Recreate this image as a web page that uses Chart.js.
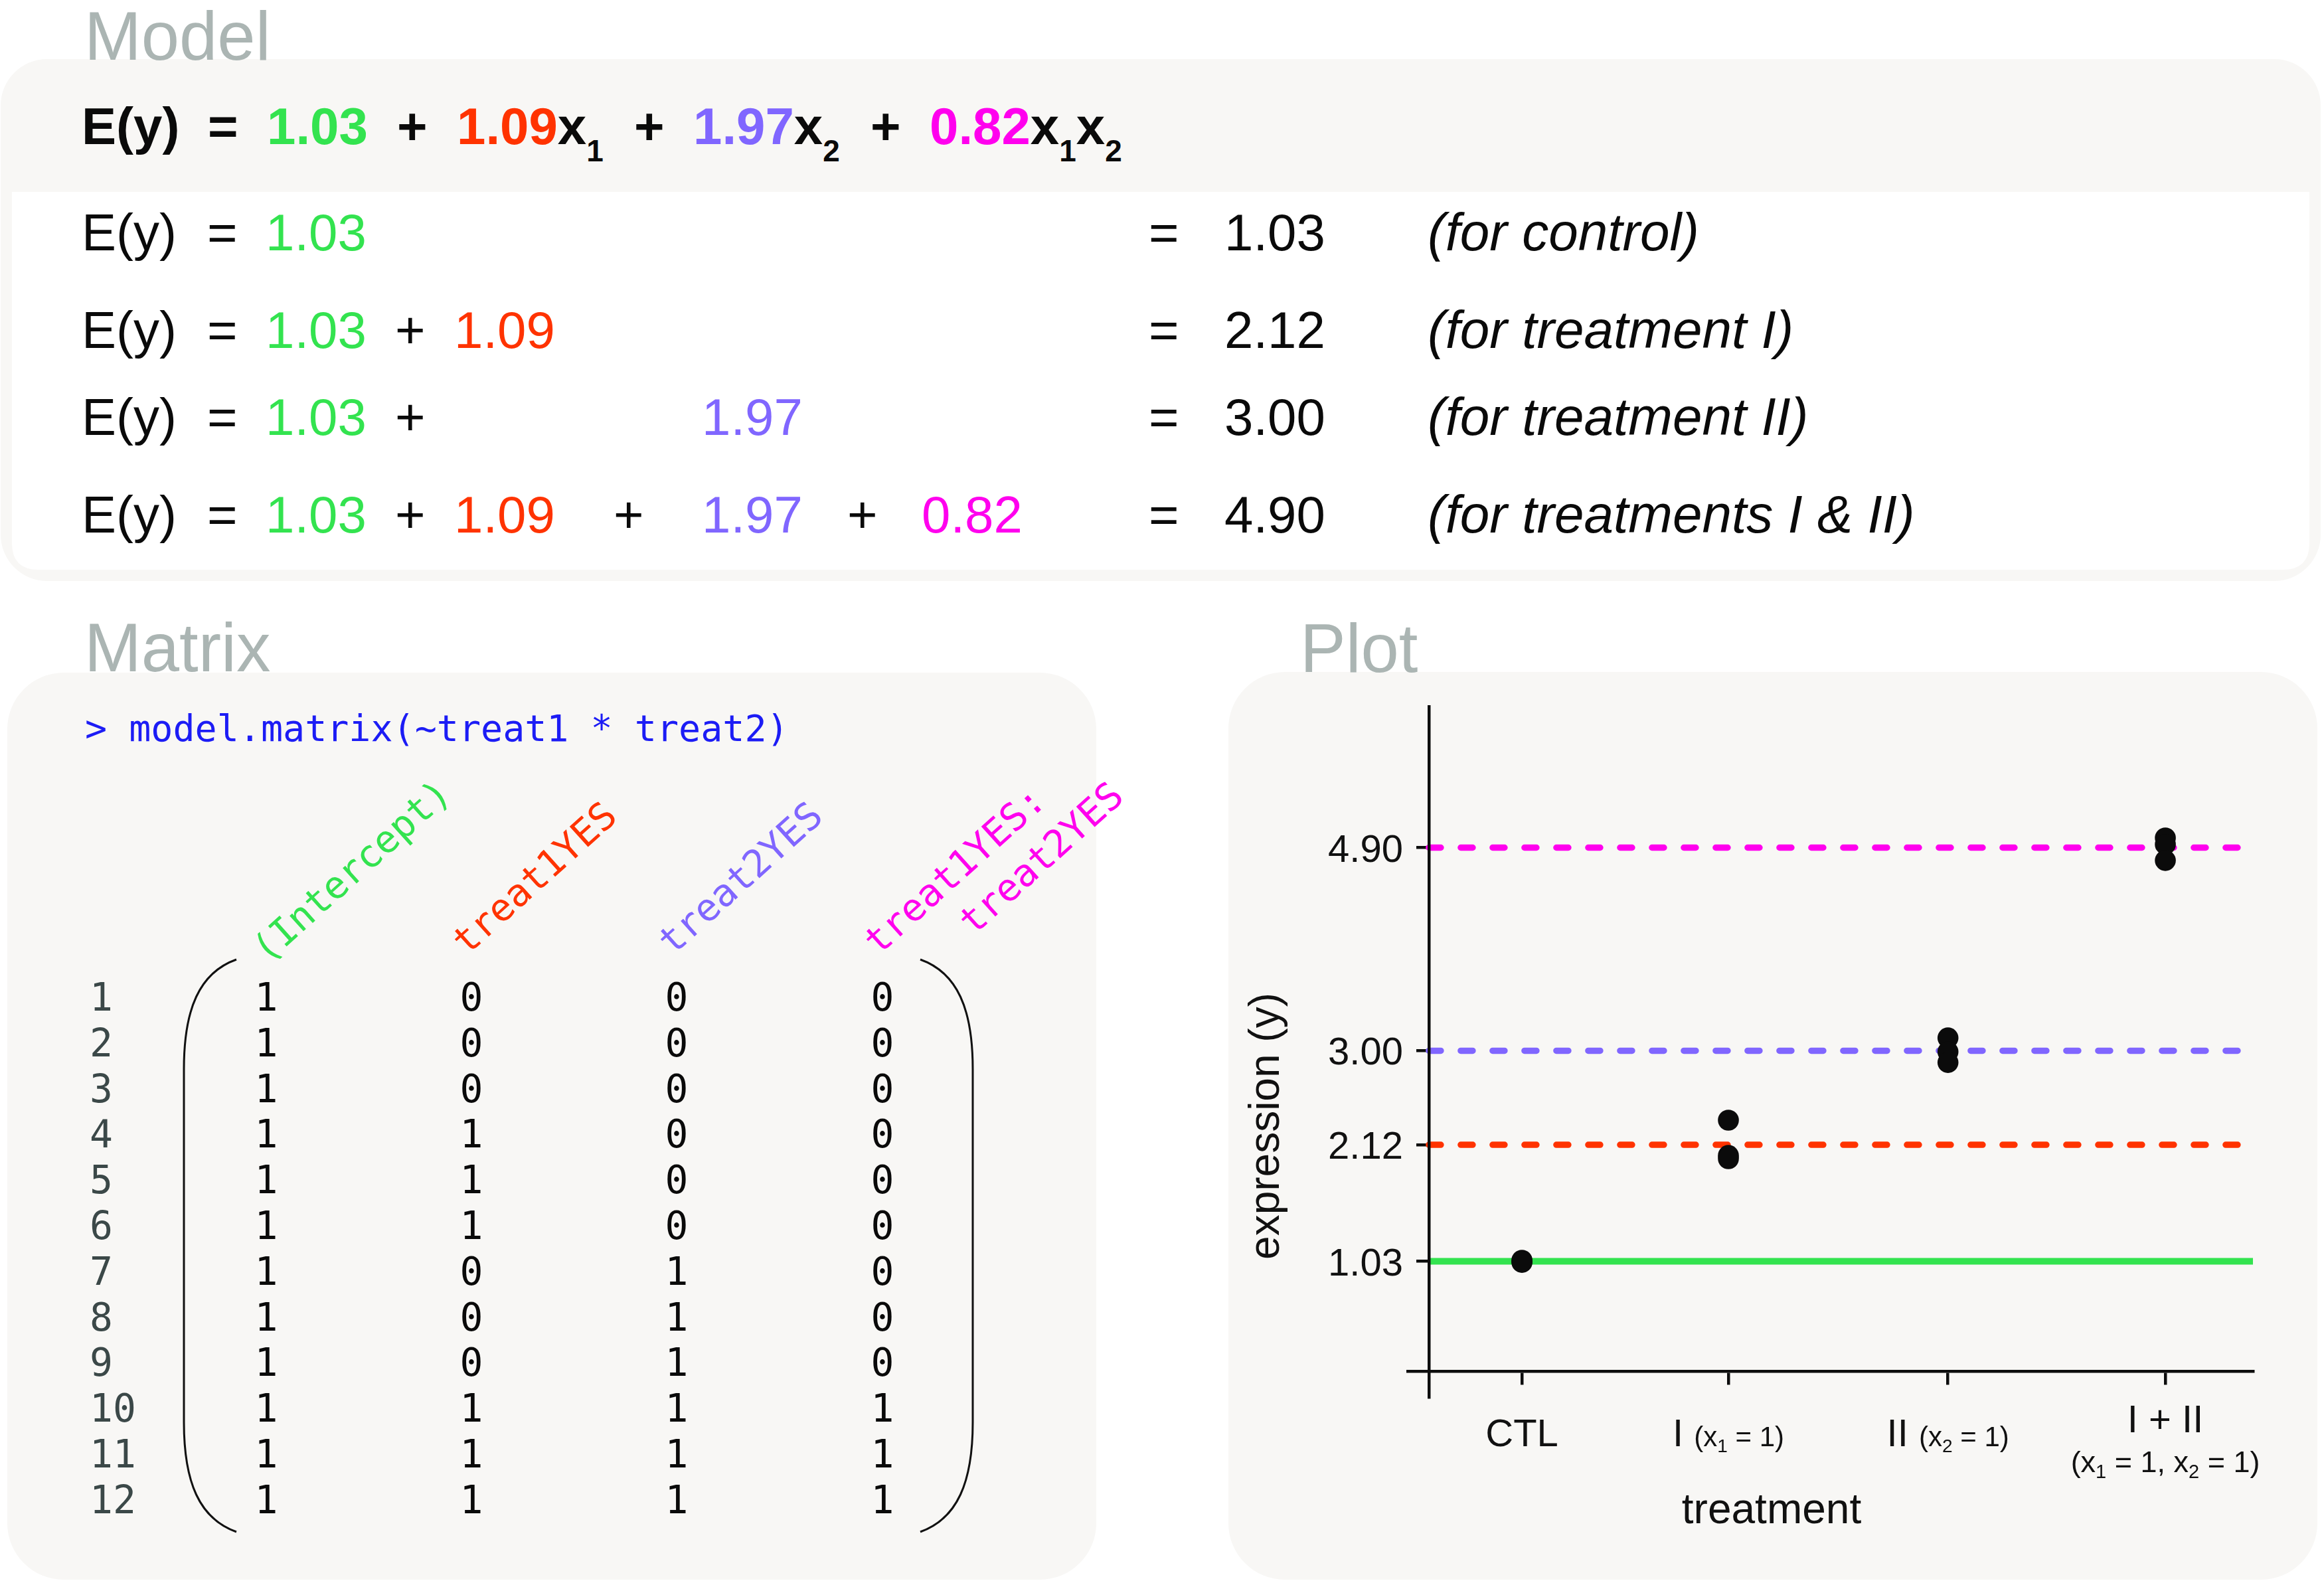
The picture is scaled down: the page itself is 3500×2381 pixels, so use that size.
<!DOCTYPE html>
<html>
<head>
<meta charset="utf-8">
<script src="https://cdn.jsdelivr.net/npm/chart.js@4.4.0/dist/chart.umd.min.js"></script>
<style>
html, body { margin: 0; padding: 0; background: #ffffff; }
#page { position: relative; width: 3500px; height: 2381px; overflow: hidden; background: #ffffff; }
#bg { position: absolute; left: 0; top: 0; }
#plot { position: absolute; left: 1850px; top: 1012px; }
</style>
</head>
<body>
<div id="page">
<svg id="bg" width="3500" height="2381" xmlns="http://www.w3.org/2000/svg"></svg>
<canvas id="plot" width="1640" height="1369"></canvas>
</div>
<script>
// ---------------- data ----------------
const coefNames = ['(Intercept)', 'treat1YES', 'treat2YES', 'treat1YES:', 'treat2YES'];
const coefValues = [1.03, 1.09, 1.97, 0.82];
const coefColors = ['#33e34f', '#ff3300', '#8066ff', '#ff00ee'];
const groupMeans = [1.03, 2.12, 3.00, 4.90];
const groupNotes = ['(for control)', '(for treatment I)', '(for treatment II)', '(for treatments I & II)'];
const treat1 = [0, 0, 0, 1, 1, 1, 0, 0, 0, 1, 1, 1];
const treat2 = [0, 0, 0, 0, 0, 0, 1, 1, 1, 1, 1, 1];

const categories = ['CTL', 'I', 'II', 'I + II'];
const categorySubLabels = ['', '(x₁ = 1)', '(x₂ = 1)', '(x₁ = 1, x₂ = 1)'];
const categoryPos = [1.055, 2, 3.005, 4];
const ctlValues = [1.04, 1.03, 1.02];
const treatIValues = [2.35, 2.02, 1.99];
const treatIIValues = [3.12, 2.99, 2.89];
const treatBothValues = [4.99, 4.93, 4.78];
const fittedLevels = [1.03, 2.12, 3.00, 4.90];
const yTickValues = [1.03, 2.12, 3.00, 4.90];
const xTitle = 'treatment';
const yTitle = 'expression (y)';

// ---------------- static panels (SVG) ----------------
const NS = 'http://www.w3.org/2000/svg';
const svg = document.getElementById('bg');
const SANS = "'Liberation Sans', Arial, Helvetica, sans-serif";
const MONO = "'DejaVu Sans Mono', monospace";
function el(tag, attrs, parent) {
  const e = document.createElementNS(NS, tag);
  for (const k in attrs) e.setAttribute(k, attrs[k]);
  (parent || svg).appendChild(e);
  return e;
}
function txt(x, y, str, attrs) {
  const t = el('text', Object.assign({ x: x, y: y }, attrs || {}));
  t.textContent = str;
  return t;
}
function rich(x, y, parts, attrs) {
  const t = el('text', Object.assign({ x: x, y: y }, attrs || {}));
  parts.forEach(p => { const s = el('tspan', p.a || {}, t); s.textContent = p.t; });
  return t;
}

const PANEL = '#f8f7f5';
const TITLE = '#abb5b3';
// Model panel
el('rect', { x: 1, y: 89, width: 3494, height: 786, rx: 70, fill: PANEL });
el('path', { d: 'M18,289 H3478 V818 Q3478,858 3438,858 H58 Q18,858 18,818 Z', fill: '#ffffff' });
txt(127, 90, 'Model', { 'font-family': SANS, 'font-size': 103, fill: TITLE });

// Header equation
const H = { 'font-family': SANS, 'font-size': 78, 'font-weight': 'bold', fill: '#0a0a0a' };
const SUB = (d) => ({ 'font-size': 46, dy: d });
txt(123, 217, 'E(y)', H);
txt(313, 217, '=', H);
txt(402, 217, coefValues[0].toFixed(2), Object.assign({}, H, { fill: coefColors[0] }));
txt(598, 217, '+', H);
rich(688, 217, [{ t: coefValues[1].toFixed(2), a: { fill: coefColors[1] } }, { t: 'x' }, { t: '1', a: SUB(26) }], H);
txt(955, 217, '+', H);
rich(1044, 217, [{ t: coefValues[2].toFixed(2), a: { fill: coefColors[2] } }, { t: 'x' }, { t: '2', a: SUB(26) }], H);
txt(1311, 217, '+', H);
rich(1400, 217, [{ t: coefValues[3].toFixed(2), a: { fill: coefColors[3] } }, { t: 'x' }, { t: '1', a: SUB(26) },
  { t: 'x', a: { dy: -26 } }, { t: '2', a: SUB(26) }], H);

// Rows
const R = { 'font-family': SANS, 'font-size': 78, fill: '#0a0a0a' };
const rowY = [377, 524, 655, 802];
const coefX = [400, 684, 1057, 1388];
const rows = [
  { terms: [0], plus: [] },
  { terms: [0, 1], plus: [595] },
  { terms: [0, 2], plus: [595] },
  { terms: [0, 1, 2, 3], plus: [595, 924, 1276] }
];
rows.forEach((r, i) => {
  const y = rowY[i];
  txt(123, y, 'E(y)', R);
  txt(312, y, '=', R);
  r.terms.forEach(k => txt(coefX[k], y, coefValues[k].toFixed(2), Object.assign({}, R, { fill: coefColors[k] })));
  r.plus.forEach(px => txt(px, y, '+', R));
  txt(1730, y, '=', R);
  txt(1844, y, groupMeans[i].toFixed(2), R);
  txt(2150, y, groupNotes[i], Object.assign({}, R, { 'font-style': 'italic', 'font-size': 80 }));
});

// Matrix panel
el('rect', { x: 11, y: 1013, width: 1640, height: 1366, rx: 85, fill: PANEL });
txt(127, 1011, 'Matrix', { 'font-family': SANS, 'font-size': 103, fill: TITLE });
txt(128, 1116, '> model.matrix(~treat1 * treat2)', { 'font-family': MONO, 'font-size': 55, fill: '#1c1cf5' });

const M = { 'font-family': MONO, 'font-size': 57 };
const headPos = [[402, 1452], [703, 1440], [1013, 1440], [1323, 1440], [1466, 1410]];
const headColor = [coefColors[0], coefColors[1], coefColors[2], coefColors[3], coefColors[3]];
coefNames.forEach((n, i) => {
  const [hx, hy] = headPos[i];
  txt(hx, hy, n, Object.assign({}, M, { fill: headColor[i], transform: `rotate(-42 ${hx} ${hy})` }));
});

const colX = [401, 710, 1019, 1329];
const V = { 'font-family': MONO, 'font-size': 58, fill: '#0a0a0a', 'text-anchor': 'middle' };
treat1.forEach((t1, i) => {
  const y = 1522 + i * 68.8;
  txt(135, y, String(i + 1), { 'font-family': MONO, 'font-size': 58, fill: '#3b4848' });
  const vals = [1, t1, treat2[i], t1 * treat2[i]];
  vals.forEach((v, j) => txt(colX[j], y, String(v), V));
});
el('path', { d: 'M356,1445 C300,1465 277,1520 277,1610 L277,2142 C277,2232 300,2287 356,2307', fill: 'none', stroke: '#111', 'stroke-width': 3 });
el('path', { d: 'M1386,1445 C1442,1465 1465,1520 1465,1610 L1465,2142 C1465,2232 1442,2287 1386,2307', fill: 'none', stroke: '#111', 'stroke-width': 3 });

// Plot panel
el('rect', { x: 1850, y: 1012, width: 1640, height: 1367, rx: 85, fill: PANEL });
txt(1958, 1012, 'Plot', { 'font-family': SANS, 'font-size': 103, fill: TITLE });

// ---------------- chart ----------------
const xAxisMin = 0.532, xAxisMax = 4.401, yAxisCross = 0.629;
const yAxisMin = -0.24, yAxisMax = 6.22;
const dashedEnd = 4.37;
const groups = [ctlValues, treatIValues, treatIIValues, treatBothValues];

const lineDatasets = fittedLevels.map((lv, i) => ({
  type: 'line',
  data: [{ x: yAxisCross, y: lv }, { x: i === 0 ? xAxisMax : dashedEnd, y: lv }],
  borderColor: coefColors[i],
  borderWidth: i === 0 ? 10 : 9.5,
  borderDash: i === 0 ? [] : [18, 30],
  borderCapStyle: i === 0 ? 'butt' : 'round',
  pointRadius: 0,
  fill: false,
  order: 2
}));
const pointDataset = {
  type: 'scatter',
  data: categoryPos.flatMap((p, i) => groups[i].map(v => ({ x: p, y: v }))),
  pointRadius: 15.8,
  pointBackgroundColor: '#0b0b0b',
  pointBorderWidth: 0,
  order: 0
};

function splitSub(str, size, subSize) {
  return str.split(/([₁₂])/).filter(s => s).map(s =>
    s === '₁' ? { t: '1', size: subSize, dy: 9 } :
    s === '₂' ? { t: '2', size: subSize, dy: 9 } : { t: s, size: size });
}
function drawSegs(ctx, segs, cx, baseline) {
  let total = 0;
  segs.forEach(s => { ctx.font = `${s.size}px ${SANS}`; s.w = ctx.measureText(s.t).width; total += s.w; });
  let x = cx - total / 2;
  ctx.textAlign = 'left';
  segs.forEach(s => { ctx.font = `${s.size}px ${SANS}`; ctx.fillText(s.t, x, baseline + (s.dy || 0)); x += s.w; });
}
const plotTextPlugin = {
  id: 'plotText',
  afterDraw(chart) {
    const ctx = chart.ctx, xs = chart.scales.x, ys = chart.scales.y;
    const axisY = ys.getPixelForValue(0);
    const axisX = xs.getPixelForValue(yAxisCross);
    ctx.save();
    ctx.fillStyle = '#111111';
    ctx.textBaseline = 'alphabetic';
    // y tick labels (left of tick marks)
    ctx.font = `58px ${SANS}`;
    ctx.textAlign = 'right';
    ys.ticks.forEach(t => {
      ctx.fillText(t.label, axisX - 39, ys.getPixelForValue(t.value) + 21);
    });
    // x tick labels with subscripts
    categories.forEach((main, i) => {
      const cx = xs.getPixelForValue(categoryPos[i]);
      const sub = categorySubLabels[i];
      if (!sub) {
        drawSegs(ctx, [{ t: main, size: 58 }], cx, axisY + 113);
      } else if (sub.indexOf(',') >= 0) {
        drawSegs(ctx, [{ t: main, size: 58 }], cx, axisY + 92);
        drawSegs(ctx, splitSub(sub, 45, 29), cx, axisY + 152);
      } else {
        drawSegs(ctx, [{ t: main + ' ', size: 58 }].concat(splitSub(sub, 42, 28)), cx, axisY + 113);
      }
    });
    ctx.font = `64px ${SANS}`;
    ctx.textAlign = 'center';
    ctx.fillText(xTitle, 818, axisY + 229);
    ctx.translate(axisX - 226, 684);
    ctx.rotate(-Math.PI / 2);
    ctx.fillText(yTitle, 0, 0);
    ctx.restore();
  }
};

const axisGrid = { display: true, drawOnChartArea: false, drawTicks: true, color: '#0d0d0d', lineWidth: 4.5 };
new Chart(document.getElementById('plot'), {
  data: { datasets: [pointDataset].concat(lineDatasets) },
  options: {
    responsive: false,
    animation: false,
    devicePixelRatio: 1,
    layout: { padding: { left: 270, right: 97, top: 52, bottom: 277 } },
    plugins: { legend: { display: false }, tooltip: { enabled: false } },
    scales: {
      x: {
        type: 'linear', min: xAxisMin, max: xAxisMax, position: { y: 0 },
        afterBuildTicks: s => { s.ticks = categoryPos.map(v => ({ value: v })); },
        ticks: { display: false },
        grid: Object.assign({}, axisGrid, { tickLength: 18 }),
        border: { display: true, color: '#0d0d0d', width: 4.5, z: 1 }
      },
      y: {
        type: 'linear', min: yAxisMin, max: yAxisMax, position: { x: yAxisCross },
        afterBuildTicks: s => { s.ticks = yTickValues.map(v => ({ value: v })); },
        ticks: { display: false, callback: v => Number(v).toFixed(2) },
        grid: Object.assign({}, axisGrid, { tickLength: 17 }),
        border: { display: true, color: '#0d0d0d', width: 4.5, z: 1 }
      }
    }
  },
  plugins: [plotTextPlugin]
});
</script>
</body>
</html>
